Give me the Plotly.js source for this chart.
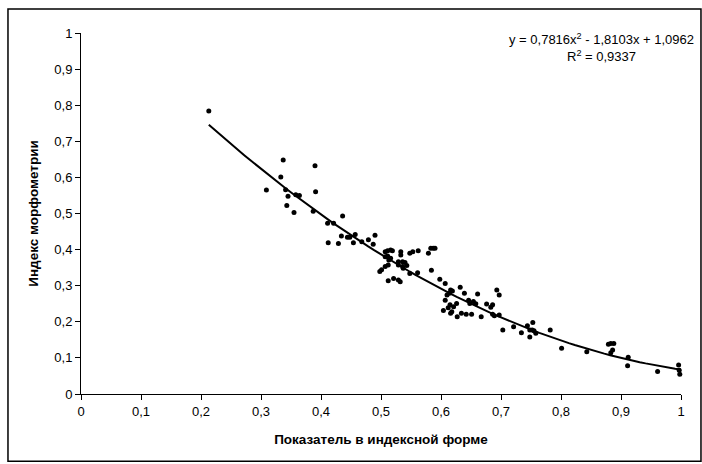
<!DOCTYPE html>
<html>
<head>
<meta charset="utf-8">
<script src="https://cdn.plot.ly/plotly-3.0.1.min.js"></script>
<style>
html,body{margin:0;padding:0;background:#fff;}
#chart{width:702px;height:464px;}
</style>
</head>
<body>
<div id="chart"></div>
<script>
// Observed points: index-form indicator (x) vs morphometry index (y)
const xVals = [
  0.213, 0.337, 0.390, 0.333, 0.309, 0.341, 0.391, 0.345, 0.358, 0.364,
  0.343, 0.355, 0.387, 0.436, 0.411, 0.421, 0.434, 0.444, 0.448, 0.457,
  0.412, 0.429, 0.454, 0.468, 0.479, 0.490, 0.487,
  0.507, 0.511, 0.516, 0.519, 0.533, 0.533, 0.548, 0.553, 0.562, 0.579,
  0.583, 0.587, 0.590, 0.507, 0.511, 0.513, 0.516, 0.529, 0.536, 0.540,
  0.529, 0.536, 0.512, 0.507, 0.501, 0.498, 0.537, 0.548, 0.561, 0.584,
  0.521, 0.512, 0.529, 0.532, 0.598, 0.607, 0.543,
  0.616, 0.619, 0.632, 0.610, 0.614, 0.607, 0.639, 0.661, 0.693, 0.697,
  0.615, 0.621, 0.612, 0.604, 0.626, 0.646, 0.648, 0.654, 0.658, 0.618,
  0.616, 0.627, 0.634, 0.642, 0.651, 0.667, 0.676, 0.683, 0.686, 0.686,
  0.689, 0.697,
  0.703, 0.721, 0.734, 0.744, 0.753, 0.748, 0.752, 0.755, 0.748, 0.758,
  0.782, 0.801, 0.843, 0.879, 0.883, 0.888, 0.886, 0.883, 0.912, 0.911,
  0.961, 0.996, 0.997, 0.998
];
const yVals = [
  0.784, 0.648, 0.632, 0.601, 0.565, 0.566, 0.560, 0.548, 0.552, 0.550,
  0.522, 0.503, 0.506, 0.493, 0.473, 0.473, 0.438, 0.434, 0.434, 0.442,
  0.419, 0.417, 0.419, 0.422, 0.427, 0.440, 0.415,
  0.394, 0.397, 0.399, 0.397, 0.394, 0.385, 0.390, 0.394, 0.397, 0.390,
  0.404, 0.404, 0.404, 0.380, 0.382, 0.371, 0.376, 0.366, 0.366, 0.364,
  0.357, 0.353, 0.357, 0.353, 0.344, 0.339, 0.348, 0.334, 0.336, 0.343,
  0.320, 0.314, 0.316, 0.311, 0.318, 0.306, 0.356,
  0.288, 0.285, 0.296, 0.274, 0.279, 0.260, 0.279, 0.277, 0.288, 0.274,
  0.247, 0.242, 0.239, 0.231, 0.251, 0.260, 0.251, 0.256, 0.250, 0.228,
  0.224, 0.214, 0.224, 0.221, 0.221, 0.214, 0.249, 0.240, 0.247, 0.221,
  0.217, 0.219,
  0.177, 0.186, 0.170, 0.189, 0.198, 0.177, 0.177, 0.175, 0.158, 0.168,
  0.177, 0.127, 0.117, 0.138, 0.140, 0.140, 0.122, 0.114, 0.102, 0.078,
  0.062, 0.080, 0.066, 0.055
];
// Polynomial trendline coefficients shown on the chart: y = a x^2 + b x + c
const trendCoef = [0.7816, -1.8103, 1.0962];
const trendRange = [0.213, 1.0];
const equationText = "y = 0,7816x<sup>2</sup> - 1,8103x + 1,0962<br>R<sup>2</sup> = 0,9337";
const xTitle = "Показатель в индексной форме";
const yTitle = "Индекс морфометрии";

const tx = [], ty = [];
const nSteps = 80;
for (let i = 0; i <= nSteps; i++) {
  const x = trendRange[0] + (trendRange[1] - trendRange[0]) * i / nSteps;
  tx.push(x);
  ty.push(trendCoef[0] * x * x + trendCoef[1] * x + trendCoef[2]);
}

const font = "Liberation Sans, Arial, sans-serif";
const data = [
  {x: xVals, y: yVals, type: 'scatter', mode: 'markers',
   marker: {color: '#000', size: 5}, hoverinfo: 'x+y', cliponaxis: false},
  {x: tx, y: ty, type: 'scatter', mode: 'lines',
   line: {color: '#000', width: 2}, hoverinfo: 'skip'}
];
const layout = {
  width: 702, height: 464,
  margin: {l: 81, r: 21, t: 33, b: 70, pad: 0},
  paper_bgcolor: '#fff', plot_bgcolor: '#fff',
  showlegend: false,
  separators: ', ',
  font: {family: font, size: 13, color: '#000'},
  xaxis: {
    range: [0, 1], dtick: 0.1, tick0: 0, showgrid: false, zeroline: false,
    showline: true, linecolor: '#000', linewidth: 1,
    ticks: 'outside', ticklen: 5, tickcolor: '#000', tickwidth: 1,
    tickfont: {family: font, size: 13, color: '#000'},
    title: {text: xTitle, font: {family: font, size: 13.5, color: '#000', weight: 'bold'}, standoff: 16},
    fixedrange: true
  },
  yaxis: {
    range: [0, 1], dtick: 0.1, tick0: 0, showgrid: false, zeroline: false,
    showline: true, linecolor: '#000', linewidth: 1,
    ticks: 'outside', ticklen: 5, tickcolor: '#000', tickwidth: 1,
    tickfont: {family: font, size: 13, color: '#000'},
    title: {text: yTitle, font: {family: font, size: 13.5, color: '#000', weight: 'bold'}, standoff: 12},
    fixedrange: true
  },
  shapes: [{
    type: 'rect', xref: 'paper', yref: 'paper',
    x0: -0.1217, x1: 1.0333, y0: -0.186, y1: 1.0665,
    line: {color: '#000', width: 1.5}, fillcolor: 'rgba(0,0,0,0)', layer: 'below'
  }],
  annotations: [{
    xref: 'paper', yref: 'paper', x: 0.867, y: 0.96,
    xanchor: 'center', yanchor: 'middle', align: 'center',
    text: equationText, showarrow: false,
    font: {family: font, size: 13, color: '#000'}
  }]
};
Plotly.newPlot('chart', data, layout, {displayModeBar: false, staticPlot: true});
</script>
</body>
</html>
